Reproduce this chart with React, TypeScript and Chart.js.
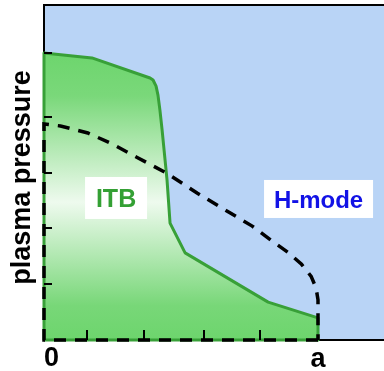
import { useEffect, useRef } from 'react';
import { Chart, registerables } from 'chart.js';

Chart.register(...registerables);

// Normalised minor radius r/a and plasma pressure (arbitrary units)
const itbRadius = [0, 0, 0.175, 0.387, 0.398, 0.409, 0.416, 0.423, 0.431, 0.449, 0.46, 0.515, 0.818, 1, 1];
const itbPressure = [0, 0.857, 0.842, 0.782, 0.776, 0.758, 0.731, 0.687, 0.627, 0.478, 0.349, 0.26, 0.113, 0.066, 0];

const hmodeRadius = [1, 0, 0, 0.06, 0.16, 0.25, 0.34, 0.45, 0.56, 0.68, 0.76, 0.83, 0.89, 0.94, 0.975, 0.993, 1, 1];
const hmodePressure = [0, 0, 0.645, 0.639, 0.618, 0.585, 0.545, 0.497, 0.438, 0.379, 0.34, 0.297, 0.262, 0.226, 0.19, 0.155, 0.12, 0];

const baseRadius = [0, 1];
const basePressure = [0, 0];

const xMinorTicks = [0.157, 0.365, 0.584, 0.788];
const yMinorTicks = [0.166, 0.333, 0.5, 0.666, 0.857];
const xTickValues = [0, 1];
const xTickLabels = ['0', 'a'];

const regionLabels = ['ITB', 'H-mode'];
const regionRadius = [0.263, 1.002];
const regionPressure = [0.424, 0.421];

const FONT = '"Liberation Sans", Arial, sans-serif';
const GREEN_LINE = '#38a038';
const regionColors = ['#34a034', '#1212e6'];
const regionFontSizes = [25, 24];
const regionBoxes = [
  [62, 42],
  [109, 38],
];

const toPoints = (xs: number[], ys: number[]) => xs.map((x, i) => ({ x, y: ys[i] }));

const decor = {
  id: 'decor',
  beforeDraw(chart: any) {
    const { ctx, chartArea: a } = chart;
    ctx.save();
    ctx.fillStyle = '#b9d4f6';
    ctx.fillRect(a.left, a.top, a.right - a.left, a.bottom - a.top);
    ctx.restore();
  },
  afterDatasetsDraw(chart: any) {
    const { ctx, chartArea: a, scales } = chart;
    const xs = scales.x;
    const ys = scales.y;
    ctx.save();
    ctx.strokeStyle = '#000';
    ctx.lineWidth = 2;
    ctx.beginPath();
    for (const v of xMinorTicks) {
      const px = Math.round(xs.getPixelForValue(v));
      ctx.moveTo(px, a.bottom);
      ctx.lineTo(px, a.bottom - 10);
    }
    for (const v of yMinorTicks) {
      const py = Math.round(ys.getPixelForValue(v));
      ctx.moveTo(a.left, py);
      ctx.lineTo(a.left + 8, py);
    }
    ctx.stroke();

    // region labels in white boxes
    regionLabels.forEach((t, i) => {
      const cx = xs.getPixelForValue(regionRadius[i]);
      const cy = ys.getPixelForValue(regionPressure[i]);
      const [w, h] = regionBoxes[i];
      ctx.fillStyle = '#ffffff';
      ctx.fillRect(cx - w / 2, cy - h / 2, w, h);
      ctx.fillStyle = regionColors[i];
      ctx.font = `bold ${regionFontSizes[i]}px ${FONT}`;
      ctx.textAlign = 'center';
      ctx.textBaseline = 'alphabetic';
      ctx.fillText(t, cx, cy + 9);
    });
    ctx.restore();
  },
  afterDraw(chart: any) {
    const { ctx, chartArea: a, scales } = chart;
    const xs = scales.x;
    ctx.save();
    ctx.fillStyle = '#000';
    ctx.font = `bold 27px ${FONT}`;
    ctx.textBaseline = 'alphabetic';
    xTickValues.forEach((v, i) => {
      const px = xs.getPixelForValue(v);
      if (i === 0) {
        ctx.textAlign = 'left';
        ctx.fillText(xTickLabels[i], px, a.bottom + 26);
      } else {
        ctx.textAlign = 'center';
        ctx.fillText(xTickLabels[i], px, a.bottom + 27);
      }
    });
    // y-axis title
    ctx.translate(29.5, (a.top + a.bottom) / 2 + 5);
    ctx.rotate(-Math.PI / 2);
    ctx.textAlign = 'center';
    ctx.fillText('plasma pressure', 0, 0);
    ctx.restore();
  },
};

export default function App() {
  const ref = useRef<HTMLCanvasElement | null>(null);

  useEffect(() => {
    if (!ref.current) return;
    const chart = new Chart(ref.current, {
      type: 'line',
      data: {
        datasets: [
          {
            label: 'H-mode',
            data: toPoints(hmodeRadius, hmodePressure),
            borderColor: '#000',
            borderWidth: 3.5,
            borderDash: [12, 9],
            pointRadius: 0,
            fill: false,
            tension: 0,
            clip: false as any,
            order: 0,
          },
          {
            label: 'ITB base',
            data: toPoints(baseRadius, basePressure),
            borderColor: GREEN_LINE,
            borderWidth: 3,
            pointRadius: 0,
            fill: false,
            clip: false as any,
            order: 1,
          },
          {
            label: 'ITB',
            data: toPoints(itbRadius, itbPressure),
            borderColor: GREEN_LINE,
            borderWidth: 3,
            borderJoinStyle: 'round',
            pointRadius: 0,
            tension: 0,
            fill: 'origin',
            clip: false as any,
            order: 2,
            backgroundColor: (c: any) => {
              const ch = c.chart;
              if (!ch.chartArea) return '#8fdc8f';
              const y = ch.scales.y;
              const g = ch.ctx.createLinearGradient(0, y.getPixelForValue(0.857), 0, y.getPixelForValue(0));
              g.addColorStop(0, '#6dd56d');
              g.addColorStop(0.15, '#7ad87a');
              g.addColorStop(0.52, '#eefaee');
              g.addColorStop(0.88, '#78d778');
              g.addColorStop(1, '#6dd56d');
              return g;
            },
          },
        ],
      },
      options: {
        animation: false,
        responsive: true,
        maintainAspectRatio: false,
        layout: { padding: 0 },
        plugins: { legend: { display: false }, tooltip: { enabled: false } },
        scales: {
          x: {
            type: 'linear',
            position: 'bottom',
            min: 0,
            max: 340 / 274,
            grid: { display: false },
            ticks: { display: false },
            border: { display: true, color: '#000', width: 2 },
            afterFit: (s: any) => {
              s.height = 31;
            },
          },
          xTop: {
            type: 'linear',
            position: 'top',
            grid: { display: false },
            ticks: { display: false },
            border: { display: true, color: '#000', width: 2 },
            afterFit: (s: any) => {
              s.height = 5;
            },
          },
          y: {
            type: 'linear',
            min: 0,
            max: 1,
            grid: { display: false },
            ticks: { display: false },
            border: { display: true, color: '#000', width: 2 },
            afterFit: (s: any) => {
              s.width = 44;
            },
          },
        },
      } as any,
      plugins: [decor],
    });
    return () => chart.destroy();
  }, []);

  return (
    <div style={{ position: 'fixed', left: 0, top: 0, width: 384, height: 371 }}>
      <canvas ref={ref} />
    </div>
  );
}
